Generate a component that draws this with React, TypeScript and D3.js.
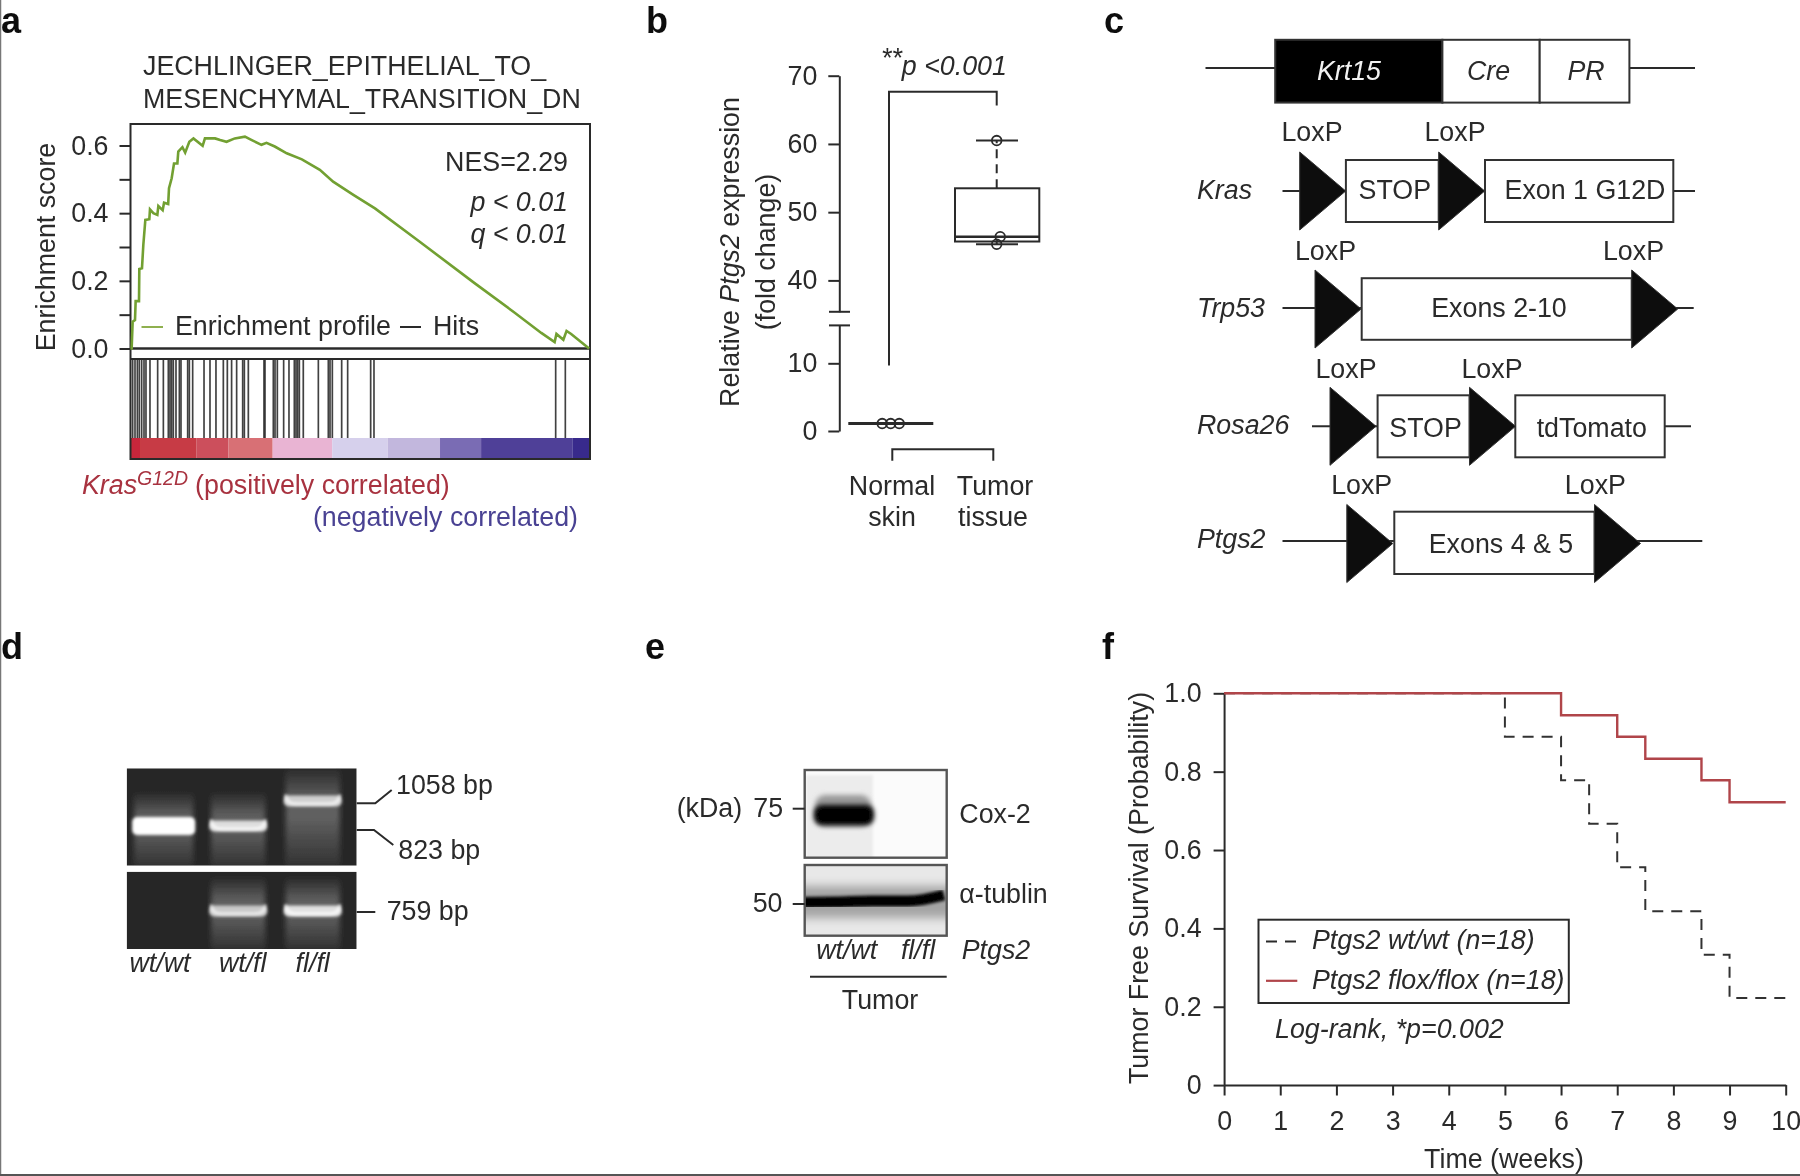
import * as d3 from 'd3';
import { useEffect, useRef } from 'react';

// panel a
const profileRank = [0, 0.25, 0.47, 0.98, 1.12, 1.85, 1.92, 2.5, 2.79, 3.23, 4.1, 4.24, 4.97, 5.84, 6.06, 7.0, 7.3, 8.2, 8.38, 8.96, 9.47, 10.2, 10.4, 11.3, 11.9, 12.8, 13.7, 15.7, 16.2, 18.4, 19.5, 20.9, 22.7, 24.9, 26.4, 28.5, 29.6, 31.4, 34, 37.3, 41.2, 44.1, 48.5, 53.2, 62.8, 74.8, 83.4, 89.4, 92.3, 92.7, 94.2, 94.9, 95.9, 99.8];
const profileScore = [0, 0, 0.079, 0.084, 0.14, 0.14, 0.235, 0.237, 0.306, 0.38, 0.382, 0.411, 0.4, 0.395, 0.421, 0.409, 0.431, 0.427, 0.474, 0.503, 0.547, 0.547, 0.582, 0.595, 0.579, 0.611, 0.621, 0.599, 0.621, 0.621, 0.616, 0.611, 0.621, 0.626, 0.616, 0.602, 0.608, 0.597, 0.577, 0.559, 0.528, 0.493, 0.454, 0.414, 0.317, 0.194, 0.108, 0.046, 0.019, 0.043, 0.026, 0.052, 0.043, 0];
const hitRanks = [0.47, 0.98, 1.49, 1.92, 2.43, 2.94, 3.37, 4.24, 5.91, 7.15, 8.23, 8.6, 8.96, 9.32, 9.9, 10.63, 10.99, 12.44, 12.8, 13.53, 16.0, 17.3, 18.6, 20.2, 21.07, 22.0, 23.1, 24.41, 24.77, 25.64, 29.05, 29.27, 31.08, 31.45, 31.95, 33.33, 34.49, 35.65, 36.02, 36.38, 36.74, 37.6, 40.88, 43.05, 43.42, 43.92, 45.96, 47.26, 52.27, 52.99, 92.53, 94.63];
const rankBandEdges = [0, 2.07, 14.4, 21.3, 30.94, 43.9, 55.97, 67.36, 76.3, 96.15, 100];
const rankBandColors = ['#c8283a', '#c73a44', '#cc4f5c', '#d86f75', '#e9b4d3', '#d6d0ec', '#c2b7dd', '#7a6cb4', '#4f3f98', '#372a8c'];

// panel b
const normalSkin = [1.1, 1.1, 1.1];
const tumorTissue = [60.5, 46.4, 45.3];
const tumorBox = { q1: 45.7, median: 46.4, q3: 53.5, low: 45.3, high: 60.5 };

// panel d
const gelLanes = ['wt/wt', 'wt/fl', 'fl/fl'];
const upperGelBp = [823, 823, 1058];
const upperGelGlow = [1, 0.8, 0.72];
const lowerGelBp = [0, 759, 759];
const lowerGelGlow = [0, 0.68, 0.82];

// panel f
const survivalWeeks = [0, 5, 6, 6.5, 7, 7.5, 8.5, 9, 10];
const survivalWt = [1, 0.889, 0.778, 0.667, 0.556, 0.444, 0.333, 0.222, 0.222];
const floxWeeks = [0, 6, 7, 7.5, 8.5, 9, 10];
const survivalFlox = [1, 0.944, 0.889, 0.833, 0.778, 0.722, 0.722];

const FONT = '"Liberation Sans", Arial, sans-serif';
const INK = '#2b2b2b';
const FS = 26.8;

const App = () => {
    const ref = useRef<SVGSVGElement>(null);
    useEffect(() => {
        const svg = d3.select(ref.current);
        svg.selectAll('*').remove();
        const defs = svg.append('defs');
        [0.6, 1.4, 2.5, 5].forEach((s, i) => {
            defs.append('filter').attr('id', 'blur' + i)
                .attr('x', '-30%').attr('y', '-60%').attr('width', '160%').attr('height', '220%')
                .append('feGaussianBlur').attr('stdDeviation', s);
        });
        // the source figure is a soft scan
        defs.append('filter').attr('id', 'soft').attr('filterUnits', 'userSpaceOnUse')
            .attr('x', 0).attr('y', 0).attr('width', 1800).attr('height', 1176)
            .append('feGaussianBlur').attr('stdDeviation', 0.55);
        const smear = defs.append('linearGradient').attr('id', 'smear').attr('x1', 0).attr('x2', 0).attr('y1', 0).attr('y2', 1);
        [[0, 0], [0.3, 0.55], [0.5, 0.6], [1, 0.12]].forEach(([o, a]) => {
            smear.append('stop').attr('offset', o).attr('stop-color', '#9a9a9a').attr('stop-opacity', a);
        });
        const root = svg.append('g').attr('font-family', FONT).attr('fill', INK).attr('filter', 'url(#soft)');

        const text = (x: number, y: number, s: string, o: any = {}) => root.append('text')
            .attr('x', x).attr('y', y)
            .attr('text-anchor', o.anchor || 'start')
            .attr('font-size', o.size || FS)
            .attr('font-style', o.italic ? 'italic' : 'normal')
            .attr('font-weight', o.bold ? 'bold' : 'normal')
            .attr('fill', o.fill || INK)
            .text(s);
        const line = (x1: number, y1: number, x2: number, y2: number, w = 2, c = INK) => root.append('line')
            .attr('x1', x1).attr('y1', y1).attr('x2', x2).attr('y2', y2)
            .attr('stroke', c).attr('stroke-width', w);
        const styleAxis = (g: any) => {
            g.select('.domain').attr('stroke', INK).attr('stroke-width', 2);
            g.selectAll('.tick line').attr('stroke', INK).attr('stroke-width', 2);
            g.selectAll('.tick text').attr('fill', INK).attr('font-size', FS).attr('font-family', FONT);
        };

        // page edge of the scan
        line(0.5, 0, 0.5, 1176, 1.5, '#777');
        line(0, 1175, 1800, 1175, 2, '#555');

        // panel letters
        [['a', 1, 33], ['b', 646, 33], ['c', 1104, 33], ['d', 1, 659], ['e', 645, 659], ['f', 1102, 659]]
            .forEach(([s, x, y]: any) => text(x, y, s, { bold: true, size: 36, fill: '#111' }));

        // ---- a: enrichment plot
        const ax = d3.scaleLinear().domain([0, 100]).range([130.5, 590]);
        const ay = d3.scaleLinear().domain([0, 0.6]).range([348.5, 145.5]);
        text(143, 75, 'JECHLINGER_EPITHELIAL_TO_');
        text(143, 107.6, 'MESENCHYMAL_TRANSITION_DN');
        root.append('g').selectAll('rect').data(rankBandColors).enter().append('rect')
            .attr('x', (_: any, i: number) => ax(rankBandEdges[i]))
            .attr('width', (_: any, i: number) => ax(rankBandEdges[i + 1]) - ax(rankBandEdges[i]))
            .attr('y', 438).attr('height', 21)
            .attr('fill', (d: string) => d);
        root.append('g').selectAll('line').data(hitRanks).enter().append('line')
            .attr('x1', (d: number) => ax(d)).attr('x2', (d: number) => ax(d))
            .attr('y1', 359).attr('y2', 438)
            .attr('stroke', '#222').attr('stroke-opacity', 0.85).attr('stroke-width', 1.7);
        root.append('rect').attr('x', 130.5).attr('y', 124).attr('width', 459.5).attr('height', 335)
            .attr('fill', 'none').attr('stroke', INK).attr('stroke-width', 2);
        line(130.5, 348.5, 590, 348.5, 2.5);
        line(130.5, 359, 590, 359, 2);
        const aAxis = root.append('g').attr('transform', 'translate(130.5,0)')
            .call(d3.axisLeft(ay).tickValues([0, 0.1, 0.2, 0.3, 0.4, 0.5, 0.6]).tickSize(11).tickPadding(11)
                .tickFormat((d: any) => (Math.round(d * 10) % 2 === 0 ? d3.format('.1f')(d) : '')) as any);
        styleAxis(aAxis);
        aAxis.select('.domain').remove();
        root.append('path')
            .attr('d', d3.line<number>().x((d) => ax(d)).y((_, i) => ay(profileScore[i]))(profileRank))
            .attr('fill', 'none').attr('stroke', '#72a032').attr('stroke-width', 2.6);
        text(0, 0, 'Enrichment score').attr('transform', 'translate(55,247) rotate(-90)').attr('text-anchor', 'middle');
        text(568, 171.4, 'NES=2.29', { anchor: 'end' });
        text(568, 211, 'p < 0.01', { anchor: 'end', italic: true });
        text(568, 243, 'q < 0.01', { anchor: 'end', italic: true });
        line(141.5, 327, 163, 327, 2, '#8fb04f');
        text(175, 334.5, 'Enrichment profile');
        line(400, 327, 421, 327, 2);
        text(433, 334.5, 'Hits');
        const kras = text(82, 493.8, '', { fill: '#a8323f' });
        kras.append('tspan').attr('font-style', 'italic').text('Kras');
        kras.append('tspan').attr('font-style', 'italic').attr('font-size', 19.5).attr('dy', -9).text('G12D');
        kras.append('tspan').attr('dy', 9).attr('dx', 7).text('(positively correlated)');
        text(578, 526, '(negatively correlated)', { anchor: 'end', fill: '#4a4293' });

        // ---- b: box plot with broken axis
        const yHi = d3.scaleLinear().domain([35.4, 70]).range([311.8, 75.7]);
        const yLo = d3.scaleLinear().domain([0, 15.6]).range([431, 325.4]);
        const bx = d3.scalePoint().domain(['Normal skin', 'Tumor tissue']).range([890.7, 996.7]);
        const bxN = bx('Normal skin') as number;
        const bxT = bx('Tumor tissue') as number;
        [[yHi, [40, 50, 60, 70]], [yLo, [0, 10]]].forEach(([sc, tv]: any) => {
            const g = root.append('g').attr('transform', 'translate(839.3,0)')
                .call(d3.axisLeft(sc).tickValues(tv).tickSize(11).tickSizeOuter(0).tickPadding(11) as any);
            styleAxis(g);
        });
        line(829, yHi(35.4), 850, yHi(35.4));
        line(829, yLo(15.6), 850, yLo(15.6));
        const yTitle = text(0, 0, '', { anchor: 'middle' }).attr('transform', 'translate(739,252) rotate(-90)');
        yTitle.append('tspan').text('Relative ');
        yTitle.append('tspan').attr('font-style', 'italic').text('Ptgs2');
        yTitle.append('tspan').text(' expression');
        text(0, 0, '(fold change)', { anchor: 'middle' }).attr('transform', 'translate(775,252) rotate(-90)');
        const sig = text(881, 75, '', { italic: true });
        sig.append('tspan').attr('dy', -8).text('**');
        sig.append('tspan').attr('dy', 8).text('p <0.001');
        root.append('path').attr('d', d3.line()([[889, 365.4], [889, 91.8], [bxT, 91.8], [bxT, 105.4]]))
            .attr('fill', 'none').attr('stroke', INK).attr('stroke-width', 2);
        line(848.3, yLo(d3.median(normalSkin) as number), 933.3, yLo(d3.median(normalSkin) as number), 3);
        root.append('g').selectAll('circle').data(normalSkin).enter().append('circle')
            .attr('cx', (_: any, i: number) => bxN + (i - 1) * 8.5)
            .attr('cy', (d: number) => yLo(d)).attr('r', 4.8)
            .attr('fill', 'none').attr('stroke', INK).attr('stroke-width', 1.8);
        line(bxT, yHi(tumorBox.q3), bxT, yHi(tumorBox.high)).attr('stroke-dasharray', '9 6');
        line(bxT, yHi(tumorBox.q1), bxT, yHi(tumorBox.low));
        line(976, yHi(tumorBox.high), 1018, yHi(tumorBox.high));
        line(976, yHi(tumorBox.low), 1018, yHi(tumorBox.low));
        root.append('rect').attr('x', 955).attr('width', 84.3)
            .attr('y', yHi(tumorBox.q3)).attr('height', yHi(tumorBox.q1) - yHi(tumorBox.q3))
            .attr('fill', 'none').attr('stroke', INK).attr('stroke-width', 2);
        line(955, yHi(tumorBox.median), 1039.3, yHi(tumorBox.median), 2.6);
        root.append('g').selectAll('circle').data(tumorTissue).enter().append('circle')
            .attr('cx', (_: any, i: number) => bxT + (i === 1 ? 3.5 : 0))
            .attr('cy', (d: number) => yHi(d)).attr('r', 4.8)
            .attr('fill', 'none').attr('stroke', INK).attr('stroke-width', 1.8);
        root.append('path').attr('d', d3.line()([[892.3, 460.7], [892.3, 449.3], [993.3, 449.3], [993.3, 460.7]]))
            .attr('fill', 'none').attr('stroke', INK).attr('stroke-width', 2);
        text(892, 494.6, 'Normal', { anchor: 'middle' });
        text(892, 526, 'skin', { anchor: 'middle' });
        text(995, 494.6, 'Tumor', { anchor: 'middle' });
        text(993, 526, 'tissue', { anchor: 'middle' });

        // ---- c: allele schematics
        const boxRect = (x1: number, x2: number, y1: number, y2: number, fill = '#fff') => root.append('rect')
            .attr('x', x1).attr('y', y1).attr('width', x2 - x1).attr('height', y2 - y1)
            .attr('fill', fill).attr('stroke', '#333').attr('stroke-width', 2);
        const loxTriangle = (x: number, cy: number) => root.append('path')
            .attr('d', d3.line()([[x, cy - 39], [x + 46, cy], [x, cy + 39]]) + 'Z')
            .attr('fill', '#111').attr('stroke', '#333').attr('stroke-width', 1);
        line(1205.5, 68, 1275, 68); line(1629, 68, 1695, 68);
        boxRect(1275.2, 1442.4, 39.8, 102.6, '#000');
        boxRect(1442.4, 1539.7, 39.8, 102.6);
        boxRect(1539.7, 1629.4, 39.8, 102.6);
        text(1349, 79.6, 'Krt15', { anchor: 'middle', italic: true, fill: '#f2f2f2' });
        text(1488.5, 79.6, 'Cre', { anchor: 'middle', italic: true });
        text(1586, 79.6, 'PR', { anchor: 'middle', italic: true });

        const rows = [
            { name: 'Kras', yName: 199, mid: 191, lineY: 191, line: [1282.5, 1695], boxes: [[1345.9, 1438.7, 160, 222, 'STOP', 1394.8], [1485, 1673.3, 160, 222, 'Exon 1 G12D', 1585]], tri: [1299.7, 1438.7], lox: [1312, 1455], yLox: 140.5, yTxt: 199 },
            { name: 'Trp53', yName: 317, mid: 309, lineY: 308, line: [1282.5, 1693.7], boxes: [[1361.7, 1631.7, 278.2, 339.8, 'Exons 2-10', 1499]], tri: [1315, 1631.7], lox: [1325.5, 1633.5], yLox: 260.2, yTxt: 317 },
            { name: 'Rosa26', yName: 434.4, mid: 426.3, lineY: 426.3, line: [1312, 1691], boxes: [[1377.6, 1469.5, 395.3, 457.3, 'STOP', 1425.6], [1515.3, 1664.7, 395.3, 457.3, 'tdTomato', 1591.8]], tri: [1330, 1469.5], lox: [1346, 1492], yLox: 377.7, yTxt: 437 },
            { name: 'Ptgs2', yName: 548, mid: 543.5, lineY: 541, line: [1282.5, 1702.3], boxes: [[1394.3, 1594.5, 511.7, 574, 'Exons 4 & 5', 1501]], tri: [1346.8, 1594.5], lox: [1361.7, 1595.4], yLox: 493.7, yTxt: 553 },
        ];
        rows.forEach((r: any) => {
            line(r.line[0], r.lineY, r.line[1], r.lineY);
            r.boxes.forEach((b: any) => {
                boxRect(b[0], b[1], b[2], b[3]);
                text(b[5], r.yTxt, b[4], { anchor: 'middle' });
            });
            r.tri.forEach((x: number) => loxTriangle(x, r.mid));
            r.lox.forEach((x: number) => text(x, r.yLox, 'LoxP', { anchor: 'middle' }));
            text(1197, r.yName, r.name, { italic: true });
        });

        // ---- d: genotyping gel
        const lane = d3.scalePoint().domain(gelLanes).range([163.7, 312.7]);
        const bpUpper = d3.scaleLinear().domain([823, 1058]).range([826, 801]);
        const bpLower = d3.scaleLinear().domain([759, 800]).range([911, 905]);
        const gel = (y1: number, y2: number, bps: number[], glow: number[], sc: any, id: string) => {
            defs.append('clipPath').attr('id', id).append('rect').attr('x', 126.7).attr('y', y1).attr('width', 230).attr('height', y2 - y1);
            const g = root.append('g').attr('clip-path', 'url(#' + id + ')');
            g.append('rect').attr('x', 126.7).attr('y', y1).attr('width', 230).attr('height', y2 - y1).attr('fill', '#282828');
            gelLanes.forEach((l, i) => {
                if (!glow[i]) return;
                const cx = lane(l) as number;
                const by = sc(bps[i]);
                const w = i === 0 ? 63 : 58;
                const h = i === 0 ? 18 : 11;
                g.append('rect').attr('x', cx - w / 2 + 2).attr('y', by - 34).attr('width', w - 4).attr('height', y2 - by + 34)
                    .attr('fill', 'url(#smear)').attr('opacity', 0.85).attr('filter', 'url(#blur2)');
                g.append('rect').attr('x', cx - w / 2).attr('y', by - h / 2).attr('width', w).attr('height', h).attr('rx', 5)
                    .attr('fill', d3.interpolateRgb('#555', '#fff')(glow[i])).attr('filter', 'url(#blur1)');
                if (i === 0) return;
                g.append('path')
                    .attr('d', `M${cx - w / 2 + 2},${by - h / 2 - 1} Q${cx - w / 2 + 2},${by + h / 4} ${cx - w / 2 + 12},${by + h / 4} L${cx + w / 2 - 12},${by + h / 4} Q${cx + w / 2 - 2},${by + h / 4} ${cx + w / 2 - 2},${by - h / 2 - 1}`)
                    .attr('fill', 'none').attr('stroke', '#fff').attr('stroke-width', 3).attr('opacity', glow[i]).attr('filter', 'url(#blur1)');
            });
        };
        gel(768.3, 865.7, upperGelBp, upperGelGlow, bpUpper, 'gelA');
        gel(871.7, 949, lowerGelBp, lowerGelGlow, bpLower, 'gelB');
        root.append('path').attr('d', d3.line()([[356.7, 803.3], [375.3, 803.3], [391.7, 790]])).attr('fill', 'none').attr('stroke', INK).attr('stroke-width', 2);
        root.append('path').attr('d', d3.line()([[356.7, 830], [374, 830], [393.3, 845]])).attr('fill', 'none').attr('stroke', INK).attr('stroke-width', 2);
        line(356.7, 912, 375.3, 912);
        text(396, 794, '1058 bp');
        text(398.3, 859, '823 bp');
        text(386.7, 920, '759 bp');
        [[160], [242.7], [312.7]].forEach(([x], i) => text(x, 971.7, gelLanes[i], { anchor: 'middle', italic: true }));

        // ---- e: western blot
        defs.append('clipPath').attr('id', 'blotA').append('rect').attr('x', 804.7).attr('y', 770).attr('width', 142).attr('height', 87.7);
        defs.append('clipPath').attr('id', 'blotB').append('rect').attr('x', 804.7).attr('y', 865).attr('width', 142).attr('height', 70.7);
        const bA = root.append('g').attr('clip-path', 'url(#blotA)');
        bA.append('rect').attr('x', 804.7).attr('y', 770).attr('width', 142).attr('height', 87.7).attr('fill', '#fbfbfb');
        bA.append('rect').attr('x', 806).attr('y', 775).attr('width', 67).attr('height', 85).attr('fill', '#ececec').attr('filter', 'url(#blur1)');
        bA.append('rect').attr('x', 815).attr('y', 795).attr('width', 56).attr('height', 32).attr('rx', 10).attr('fill', '#999').attr('filter', 'url(#blur2)');
        bA.append('rect').attr('x', 814).attr('y', 805).attr('width', 60).attr('height', 20).attr('rx', 8).attr('fill', '#000').attr('filter', 'url(#blur2)');
        const bB = root.append('g').attr('clip-path', 'url(#blotB)');
        bB.append('rect').attr('x', 804.7).attr('y', 865).attr('width', 142).attr('height', 70.7).attr('fill', '#e8e8e8');
        bB.append('rect').attr('x', 795).attr('y', 886).attr('width', 160).attr('height', 32).attr('fill', '#a4a4a4').attr('filter', 'url(#blur3)');
        const tubulinX = d3.scaleLinear().domain([0, 4]).range([800, 944]);
        const tubulinY = [902.5, 902, 901, 901, 895];
        bB.append('path')
            .attr('d', d3.line<number>().x((_, i) => tubulinX(i)).y((d) => d).curve(d3.curveMonotoneX)(tubulinY))
            .attr('fill', 'none').attr('stroke', '#000').attr('stroke-width', 11).attr('filter', 'url(#blur1)');
        root.append('rect').attr('x', 804.7).attr('y', 770).attr('width', 142).attr('height', 87.7).attr('fill', 'none').attr('stroke', '#555').attr('stroke-width', 2.4);
        root.append('rect').attr('x', 804.7).attr('y', 865).attr('width', 142).attr('height', 70.7).attr('fill', 'none').attr('stroke', '#555').attr('stroke-width', 2.4);
        line(792.7, 808.7, 804.7, 808.7);
        line(792.7, 904, 804.7, 904);
        text(676.7, 817, '(kDa)');
        text(753.3, 817, '75');
        text(752.7, 912.3, '50');
        text(959.3, 823, 'Cox-2');
        text(959.3, 903, 'α-tublin');
        text(846.7, 959, 'wt/wt', { anchor: 'middle', italic: true });
        text(918, 959, 'fl/fl', { anchor: 'middle', italic: true });
        text(961.7, 959, 'Ptgs2', { italic: true });
        line(810, 976.7, 946.7, 976.7);
        text(880, 1009.3, 'Tumor', { anchor: 'middle' });

        // ---- f: survival curves
        const fx = d3.scaleLinear().domain([0, 10]).range([1224.1, 1785.7]);
        const fy = d3.scaleLinear().domain([0, 1]).range([1085.1, 693.3]);
        const fyAxis = root.append('g').attr('transform', 'translate(1224.1,0)')
            .call(d3.axisLeft(fy).tickValues([0, 0.2, 0.4, 0.6, 0.8, 1]).tickSize(10.5).tickSizeOuter(0).tickPadding(12)
                .tickFormat((d: any) => (d === 0 ? '0' : d3.format('.1f')(d))) as any);
        styleAxis(fyAxis);
        const fxAxis = root.append('g').attr('transform', 'translate(0,1085.1)')
            .call(d3.axisBottom(fx).ticks(10).tickSize(10.4).tickSizeOuter(0).tickPadding(15) as any);
        styleAxis(fxAxis);
        const step = d3.line<number>().curve(d3.curveStepAfter);
        root.append('path')
            .attr('d', step.x((d) => fx(d)).y((_, i) => fy(survivalWt[i]))(survivalWeeks))
            .attr('fill', 'none').attr('stroke', '#333').attr('stroke-width', 2).attr('stroke-dasharray', '11 8');
        root.append('path')
            .attr('d', step.x((d) => fx(d)).y((_, i) => fy(survivalFlox[i]))(floxWeeks))
            .attr('fill', 'none').attr('stroke', '#b0444a').attr('stroke-width', 2.4);
        text(0, 0, 'Tumor Free Survival (Probability)', { anchor: 'middle' }).attr('transform', 'translate(1148,888) rotate(-90)');
        text(1504, 1168, 'Time (weeks)', { anchor: 'middle' });
        root.append('rect').attr('x', 1258.5).attr('y', 919.7).attr('width', 310.3).attr('height', 83.3)
            .attr('fill', '#fff').attr('stroke', INK).attr('stroke-width', 2);
        line(1266, 941.5, 1297.3, 941.5).attr('stroke-dasharray', '11 8');
        line(1266, 980.8, 1297.3, 980.8, 2.2, '#b0444a');
        text(1312, 949.4, 'Ptgs2 wt/wt (n=18)', { italic: true });
        text(1312, 988.7, 'Ptgs2 flox/flox (n=18)', { italic: true });
        text(1275, 1037.6, 'Log-rank, *p=0.002', { italic: true });
    }, []);
    return (
        <svg ref={ref} width={1800} height={1176} style={{ position: 'absolute', left: 0, top: 0, background: '#fff' }} />
    );
};
export default App;
